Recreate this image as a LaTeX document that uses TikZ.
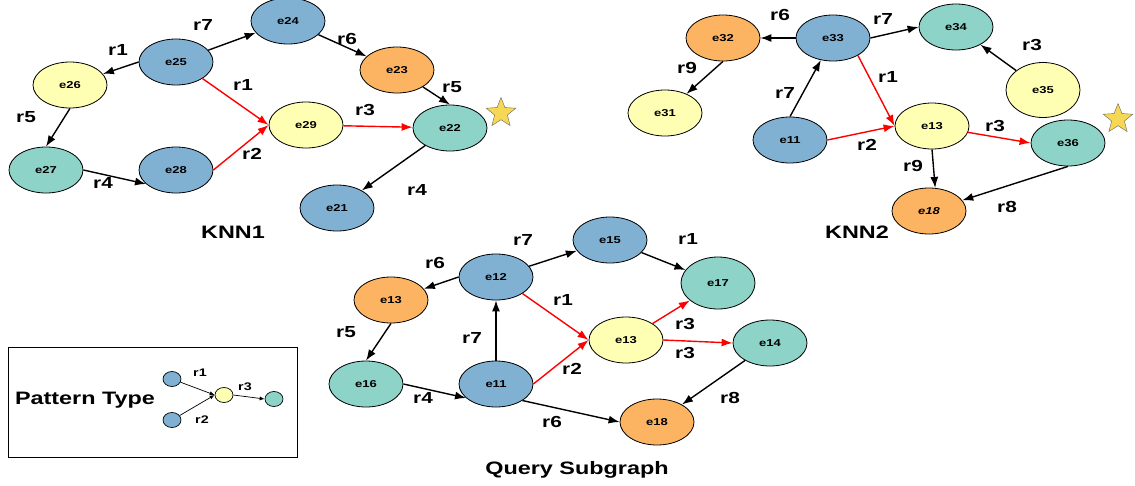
\documentclass[tikz,border=0pt]{standalone}
\usepackage{fontspec}
\usepackage{xcolor}
\usepackage{tikz}
\usetikzlibrary{arrows.meta,shapes.geometric}
\newfontfamily\figfont{Liberation Sans}[FakeStretch=1.3]
\definecolor{eblue}{HTML}{80B1D3}
\definecolor{eyellow}{HTML}{FFFFB3}
\definecolor{egreen}{HTML}{8DD3C7}
\definecolor{eorange}{HTML}{FDB462}
\definecolor{estar}{HTML}{F6D856}

\begin{document}
\begin{tikzpicture}
			[x=1pt,y=1pt,
			ent/.style={ellipse,draw,line width=0.8pt,minimum width=74pt,minimum height=46pt,inner sep=0pt,font=\figfont\bfseries\fontsize{10}{12}\selectfont},
			dot/.style={ellipse,draw,line width=0.7pt,minimum width=18pt,minimum height=15pt,inner sep=0pt},
			lbl/.style={inner sep=0pt,font=\figfont\bfseries\fontsize{16}{18}\selectfont},
			small/.style={inner sep=0pt,font=\figfont\bfseries\fontsize{11}{13}\selectfont},
			ttl/.style={inner sep=0pt,font=\figfont\bfseries\fontsize{18}{20}\selectfont},
			rel/.style={-{Latex[length=11pt,width=8pt]},line width=1.4pt},
			hit/.style={rel,red},
			thin rel/.style={-{Latex[length=5pt,width=4pt]},line width=0.7pt},
			mark star/.style={star,star points=5,star point ratio=2.3,minimum size=31pt,inner sep=0pt,fill=estar,draw=black!60,line width=0.4pt}]
			\useasboundingbox (0,0) rectangle (1135,-485);

			\node[ent,fill=eblue] (a24) at (288,-21) {e24};
			\node[ent,fill=eblue] (a25) at (176,-62) {e25};
			\node[ent,fill=eyellow] (a26) at (70,-85) {e26};
			\node[ent,fill=eorange] (a23) at (397,-70) {e23};
			\node[ent,fill=eyellow] (a29) at (306,-125) {e29};
			\node[ent,fill=egreen] (a22) at (450,-128) {e22};
			\node[ent,fill=egreen] (a27) at (46,-170) {e27};
			\node[ent,fill=eblue] (a28) at (176,-170) {e28};
			\node[ent,fill=eblue] (a21) at (337,-208) {e21};
			\node[mark star] (s1) at (501,-113) {};
			\node[ttl] (knn1) at (233,-232) {KNN1};
			\path[rel]
			(a25) 	edge (a24)
			(a25.west) 	edge (a26)
			(a24) 	edge (a23)
			(a23) 	edge (a22.north)
			(a26.south) 	edge (a27.north)
			(a27.east) 	edge (a28.205)
			(a22) 	edge (a21);
			\path[hit]
			(a25.-32) 	edge (a29.west)
			(a28.east) 	edge (a29.west)
			(a29) 	edge (a22);
			\node[lbl] (la1) at (203,-25) {r7};
			\node[lbl] (la2) at (118,-50) {r1};
			\node[lbl] (la3) at (347,-39) {r6};
			\node[lbl] (la4) at (243,-85) {r1};
			\node[lbl] (la5) at (452,-87) {r5};
			\node[lbl] (la6) at (26,-117) {r5};
			\node[lbl] (la7) at (365,-110) {r3};
			\node[lbl] (la8) at (252,-154) {r2};
			\node[lbl] (la9) at (103,-183) {r4};
			\node[lbl] (la10) at (417,-190) {r4};

			\node[ent,fill=eorange] (b32) at (723,-38) {e32};
			\node[ent,fill=eblue] (b33) at (833,-38) {e33};
			\node[ent,fill=egreen] (b34) at (956,-27) {e34};
			\node[ent,fill=eyellow] (b31) at (665,-113) {e31};
			\node[ent,fill=eyellow,minimum height=55pt] (b35) at (1043,-90) {e35};
			\node[ent,fill=eblue] (b11) at (790,-140) {e11};
			\node[ent,fill=eyellow] (b13) at (932,-126) {e13};
			\node[ent,fill=egreen] (b36) at (1068,-143) {e36};
			\node[ent,fill=eorange] (b18) at (929,-211) {\itshape e18};
			\node[mark star] (s2) at (1118,-119) {};
			\node[ttl] (knn2) at (857,-232) {KNN2};
			\path[rel]
			(b33.west) 	edge (b32.east)
			(b33.east) 	edge (b34.west)
			(b32.south) 	edge (b31)
			(b11.north) 	edge (b33)
			(b35) 	edge (b34)
			(b13.south) 	edge (b18.75)
			(b36.south) 	edge (b18);
			\path[hit]
			(b33.-35) 	edge (b13.west)
			(b11.east) 	edge (b13.west)
			(b13.-10) 	edge (b36.west);
			\node[lbl] (lb1) at (780,-15) {r6};
			\node[lbl] (lb2) at (883,-19) {r7};
			\node[lbl] (lb3) at (687,-68) {r9};
			\node[lbl] (lb4) at (1032,-45) {r3};
			\node[lbl] (lb5) at (888,-77) {r1};
			\node[lbl] (lb6) at (785,-93) {r7};
			\node[lbl] (lb7) at (995,-126) {r3};
			\node[lbl] (lb8) at (867,-145) {r2};
			\node[lbl] (lb9) at (913,-166) {r9};
			\node[lbl] (lb10) at (1007,-207) {r8};

			\node[ent,fill=eblue] (q15) at (610,-240) {e15};
			\node[ent,fill=eblue] (q12) at (496,-277) {e12};
			\node[ent,fill=egreen,minimum height=52pt] (q17) at (718,-283) {e17};
			\node[ent,fill=eorange] (q13o) at (391,-300) {e13};
			\node[ent,fill=eyellow] (q13y) at (626,-340) {e13};
			\node[ent,fill=egreen] (q14) at (770,-343) {e14};
			\node[ent,fill=egreen] (q16) at (366,-384) {e16};
			\node[ent,fill=eblue] (q11) at (496,-384) {e11};
			\node[ent,fill=eorange] (q18) at (657,-422) {e18};
			\node[ttl] (query) at (577,-470) {Query Subgraph};
			\path[rel]
			(q12) 	edge (q15)
			(q12.west) 	edge (q13o)
			(q15) 	edge (q17)
			(q13o.south) 	edge (q16.north)
			(q16.east) 	edge (q11.205)
			(q11) 	edge (q12)
			(q11.-32) 	edge (q18.west)
			(q14) 	edge (q18);
			\path[hit]
			(q12.-32) 	edge (q13y.west)
			(q11.east) 	edge (q13y.west)
			(q13y) 	edge (q17)
			(q13y.east) 	edge (q14.west);
			\node[lbl] (lq1) at (523,-240) {r7};
			\node[lbl] (lq2) at (688,-239) {r1};
			\node[lbl] (lq3) at (435,-263) {r6};
			\node[lbl] (lq4) at (563,-300) {r1};
			\node[lbl] (lq5) at (346,-332) {r5};
			\node[lbl] (lq6) at (472,-338) {r7};
			\node[lbl] (lq7) at (685,-324) {r3};
			\node[lbl] (lq8) at (685,-353) {r3};
			\node[lbl] (lq9) at (572,-369) {r2};
			\node[lbl] (lq10) at (423,-398) {r4};
			\node[lbl] (lq11) at (730,-398) {r8};
			\node[lbl] (lq12) at (552,-422) {r6};

			\node[draw,line width=0.8pt,minimum width=289pt,minimum height=110pt,inner sep=0pt] (pbox) at (152.5,-402) {};
			\node[ttl] (ptype) at (85,-400) {Pattern Type};
			\node[dot,fill=eblue] (p1) at (172,-379) {};
			\node[dot,fill=eblue] (p2) at (172,-420) {};
			\node[dot,fill=eyellow] (p3) at (224,-395) {};
			\node[dot,fill=egreen] (p4) at (274,-399) {};
			\path[thin rel]
			(p1) 	edge (p3.west)
			(p2) 	edge (p3.west)
			(p3.east) 	edge (p4.west);
			\node[small] (lp1) at (200,-373) {r1};
			\node[small] (lp2) at (202,-420) {r2};
			\node[small] (lp3) at (245,-387) {r3};
		\end{tikzpicture}
\end{document}
